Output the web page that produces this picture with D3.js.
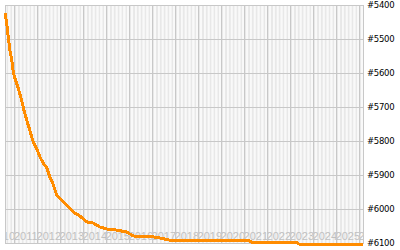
<!DOCTYPE html>
<html>
<head>
<meta charset="utf-8">
<script src="https://cdn.jsdelivr.net/npm/d3@7"></script>
<style>
  body { margin: 0; background: #fff; }
</style>
</head>
<body>
<div id="container"></div>
<script>
const dates = ["2010-08-08","2010-09-02","2010-09-28","2010-10-23","2010-11-22","2010-12-17",
  "2011-01-11","2011-02-17","2011-03-21","2011-04-27","2011-06-03","2011-07-17","2011-08-26",
  "2011-10-05","2011-10-30","2011-12-20","2012-02-13","2012-04-05","2012-05-30","2012-07-20",
  "2012-09-13","2012-11-03","2012-12-17","2013-02-17","2013-05-08","2013-07-28","2013-11-10",
  "2014-02-28","2014-06-03","2014-09-24","2015-01-12","2015-06-22","2015-11-25","2016-02-28",
  "2016-08-08","2017-01-12","2017-05-01","2017-10-08","2019-01-26","2021-04-01","2021-04-30",
  "2023-04-16","2023-05-19","2026-02-28"];
const ranks = [5424,5453,5494,5532,5562,5597,
  5615,5635,5656,5679,5709,5738,5762,
  5788,5803,5821,5847,5865,5879,5906,
  5929,5959,5968,5979,5994,6009,6021,
  6038,6041,6053,6059,6062,6068,6079,
  6082,6082,6085,6092,6093,6094,6099,
  6099,6103,6103];
const rankTicks = [5400,5500,5600,5700,5800,5900,6000,6100];
const startDate = "2010-08-07";
const endDate = "2026-02-28";

const width = 400;
const height = 250;
const marginTop = 5;
const marginRight = 37;
const marginBottom = 7;
const marginLeft = 5;

const data = dates.map((d, i) => ({date: new Date(d), rank: ranks[i]}));

const x = d3.scaleUtc([new Date(startDate), new Date(endDate)], [marginLeft, width - marginRight]);
const y = d3.scaleLinear([5400, 6100], [marginTop, height - marginBottom]);

const svg = d3.create("svg")
  .attr("width", width)
  .attr("height", height)
  .style("display", "block");

svg.append("clipPath").attr("id", "plot")
  .append("rect")
    .attr("x", marginLeft)
    .attr("y", marginTop)
    .attr("width", width - marginRight - marginLeft)
    .attr("height", height - marginBottom - marginTop);

const bg = svg.append("g").attr("clip-path", "url(#plot)");

// month stripes
const months = d3.utcMonth.range(d3.utcMonth.floor(x.domain()[0]), x.domain()[1]);
bg.selectAll("rect.m")
  .data(months)
  .join("rect")
    .attr("x", (d) => x(d))
    .attr("y", marginTop)
    .attr("width", (d) => x(d3.utcMonth.offset(d, 1)) - x(d))
    .attr("height", height - marginBottom - marginTop)
    .attr("fill", (d) => d.getUTCMonth() % 2 ? "#f9f9f9" : "#e8e8e8");

// year labels
const years = d3.utcYear.range(d3.utcYear.floor(x.domain()[0]), x.domain()[1]);
bg.selectAll("text.yr")
  .data(years)
  .join("text")
    .attr("x", (d) => (x(d) + x(d3.utcYear.offset(d, 1))) / 2)
    .attr("y", 240)
    .attr("text-anchor", "middle")
    .attr("font-family", "Liberation Sans, Arial, sans-serif")
    .attr("font-size", 11)
    .attr("fill", "#c0c0c0")
    .text((d) => d.getUTCFullYear());

// grid
bg.selectAll("line.yg")
  .data(years.slice(1))
  .join("line")
    .attr("x1", (d) => Math.round(x(d)) + 0.5)
    .attr("x2", (d) => Math.round(x(d)) + 0.5)
    .attr("y1", marginTop)
    .attr("y2", height - marginBottom)
    .attr("stroke", "#c8c8c8");

svg.selectAll("line.hg")
  .data(rankTicks)
  .join("line")
    .attr("x1", marginLeft)
    .attr("x2", width - marginRight)
    .attr("y1", (d) => Math.round(y(d)) + 0.5)
    .attr("y2", (d) => Math.round(y(d)) + 0.5)
    .attr("stroke", "#c8c8c8");

svg.append("rect")
  .attr("x", marginLeft + 0.5)
  .attr("y", marginTop + 0.5)
  .attr("width", width - marginRight - marginLeft)
  .attr("height", height - marginBottom - marginTop)
  .attr("fill", "none")
  .attr("stroke", "#c8c8c8");

// rank labels
svg.selectAll("text.rk")
  .data(rankTicks)
  .join("text")
    .attr("x", width - marginRight + 4)
    .attr("y", (d) => y(d))
    .attr("dy", "0.35em")
    .attr("font-family", "DejaVu Sans, sans-serif")
    .attr("font-size", 8.5)
    .attr("letter-spacing", "-0.3")
    .attr("fill", "#000")
    .text((d) => "#" + d);

const line = d3.line().x((d) => x(d.date)).y((d) => y(d.rank));

svg.append("path")
  .attr("fill", "none")
  .attr("stroke", "#ff8c00")
  .attr("stroke-width", 3)
  .attr("stroke-linejoin", "round")
  .attr("shape-rendering", "crispEdges")
  .attr("d", line(data));

document.getElementById("container").append(svg.node());
</script>
</body>
</html>
